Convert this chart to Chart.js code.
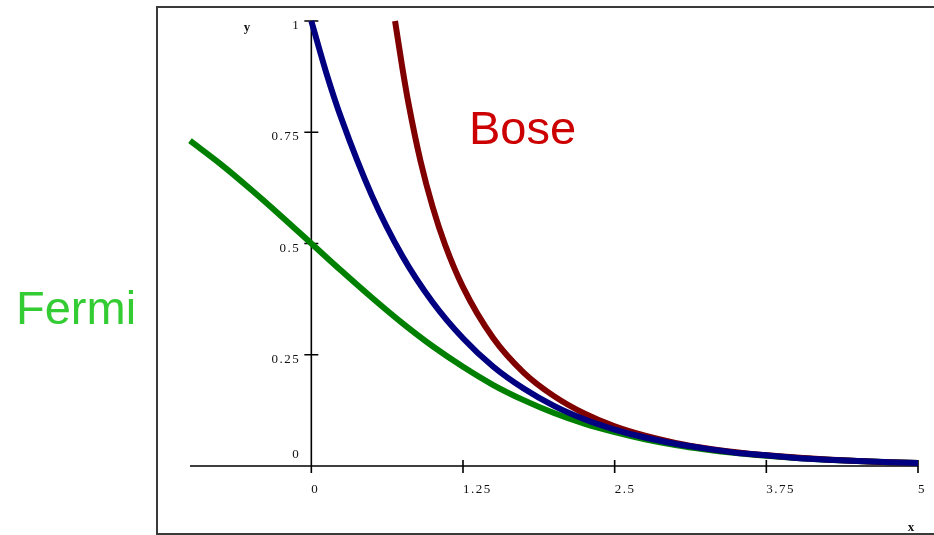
<!DOCTYPE html>
<html>
<head>
<meta charset="utf-8">
<script src="https://cdn.jsdelivr.net/npm/chart.js@4/dist/chart.umd.min.js"></script>
<style>
  html, body { margin: 0; padding: 0; background: #fff; }
  #wrap { position: relative; width: 934px; height: 535px; overflow: hidden; }
  #wrap canvas { position: absolute; left: 0; top: 0; }
  .tag { position: absolute; font-family: "Liberation Sans", Arial, sans-serif; font-size: 47px; line-height: 1; white-space: nowrap; }
  #bose { left: 469px; top: 104px; color: #cc0000; }
  #fermi { left: 16px; top: 284px; color: #33cc33; }
</style>
</head>
<body>
<div id="wrap">
  <canvas id="c" width="934" height="535"></canvas>
  <div class="tag" id="bose">Bose</div>
  <div class="tag" id="fermi">Fermi</div>
</div>
<script>
// Occupation number vs. energy: Fermi-Dirac, Maxwell-Boltzmann, Bose-Einstein
const fermiX = [-1, -0.75, -0.5, -0.25, 0, 0.25, 0.5, 0.75, 1, 1.25, 1.5, 1.75, 2, 2.25, 2.5, 2.75, 3, 3.25, 3.5, 3.75, 4, 4.25, 4.5, 4.75, 5];
const fermiY = [0.731, 0.679, 0.622, 0.562, 0.5, 0.438, 0.378, 0.321, 0.269, 0.223, 0.182, 0.148, 0.119, 0.095, 0.076, 0.060, 0.047, 0.037, 0.029, 0.023, 0.018, 0.014, 0.011, 0.0086, 0.0067];

const boltzX = [0, 0.125, 0.25, 0.5, 0.75, 1, 1.25, 1.5, 1.75, 2, 2.25, 2.5, 2.75, 3, 3.25, 3.5, 3.75, 4, 4.25, 4.5, 4.75, 5];
const boltzY = [1, 0.882, 0.779, 0.607, 0.472, 0.368, 0.287, 0.223, 0.174, 0.135, 0.105, 0.082, 0.064, 0.050, 0.039, 0.030, 0.024, 0.018, 0.014, 0.011, 0.0087, 0.0067];

const boseX = [0.69, 0.75, 0.8, 0.9, 1, 1.1, 1.25, 1.5, 1.75, 2, 2.25, 2.5, 2.75, 3, 3.25, 3.5, 3.75, 4, 4.25, 4.5, 4.75, 5];
const boseY = [1, 0.895, 0.816, 0.685, 0.582, 0.499, 0.402, 0.287, 0.210, 0.157, 0.118, 0.089, 0.068, 0.052, 0.040, 0.031, 0.024, 0.019, 0.0145, 0.0112, 0.0087, 0.0068];

const xTicks = [0, 1.25, 2.5, 3.75, 5];
const yTicks = [0, 0.25, 0.5, 0.75, 1];
const xTickLabels = ['0', '1.25', '2.5', '3.75', '5'];
const yTickLabels = ['0', '0.25', '0.5', '0.75', '1'];

const toPoints = (xs, ys) => xs.map((x, i) => ({ x: x, y: ys[i] }));

// Outer frame (left, top and bottom edges; the right edge runs past the page)
const framePlugin = {
  id: 'frame',
  beforeDraw(chart) {
    const ctx = chart.ctx;
    ctx.save();
    ctx.strokeStyle = '#3a3a3a';
    ctx.lineWidth = 2;
    ctx.beginPath();
    ctx.moveTo(940, 7);
    ctx.lineTo(157, 7);
    ctx.lineTo(157, 534);
    ctx.lineTo(940, 534);
    ctx.stroke();
    ctx.restore();
  }
};

// Axes crossing at the origin, with ticks through the axis lines
const crossAxesPlugin = {
  id: 'crossAxes',
  beforeDatasetsDraw(chart) {
    const { ctx, scales } = chart;
    const sx = scales.x, sy = scales.y;
    const x0 = sx.getPixelForValue(0);
    const y0 = sy.getPixelForValue(0);
    ctx.save();
    ctx.strokeStyle = '#000';
    ctx.lineWidth = 1.6;
    ctx.beginPath();
    ctx.moveTo(sx.getPixelForValue(sx.min), y0);
    ctx.lineTo(sx.getPixelForValue(sx.max), y0);
    ctx.moveTo(x0, sy.getPixelForValue(sy.max));
    ctx.lineTo(x0, y0 + 7);
    xTicks.forEach(v => {
      const px = sx.getPixelForValue(v);
      ctx.moveTo(px, y0 - 6);
      ctx.lineTo(px, y0 + 7);
    });
    yTicks.forEach(v => {
      const py = sy.getPixelForValue(v);
      ctx.moveTo(x0 - 7, py);
      ctx.lineTo(x0 + 7, py);
    });
    ctx.stroke();

    ctx.fillStyle = '#111';
    ctx.font = '13px "Liberation Serif", "Times New Roman", serif';
    if ('letterSpacing' in ctx) ctx.letterSpacing = '1.5px';
    ctx.textBaseline = 'alphabetic';
    ctx.textAlign = 'left';
    xTicks.forEach((v, i) => {
      ctx.fillText(xTickLabels[i], sx.getPixelForValue(v), y0 + 27);
    });
    ctx.textAlign = 'right';
    yTicks.forEach((v, i) => {
      const py = sy.getPixelForValue(v);
      const base = v === 0 ? py - 8 : py + 8;
      ctx.fillText(yTickLabels[i], x0 - 11, base);
    });
    if ('letterSpacing' in ctx) ctx.letterSpacing = '0px';
    ctx.font = 'bold 13px "Liberation Serif", "Times New Roman", serif';
    ctx.textAlign = 'center';
    ctx.fillText('y', 247, 31);
    ctx.fillText('x', 911, 531);
    ctx.restore();
  }
};

new Chart(document.getElementById('c'), {
  type: 'scatter',
  data: {
    datasets: [
      { label: 'Boltzmann', data: toPoints(boltzX, boltzY), borderColor: '#000080', backgroundColor: '#000080' },
      { label: 'Bose', data: toPoints(boseX, boseY), borderColor: '#800000', backgroundColor: '#800000' },
      { label: 'Fermi', data: toPoints(fermiX, fermiY), borderColor: '#008000', backgroundColor: '#008000' }
    ].map(d => Object.assign(d, {
      showLine: true,
      borderWidth: 6,
      pointRadius: 0,
      pointHoverRadius: 0,
      cubicInterpolationMode: 'monotone',
      clip: 6
    }))
  },
  options: {
    responsive: false,
    animation: false,
    events: [],
    layout: { padding: { left: 190, right: 16, top: 21, bottom: 69 } },
    plugins: { legend: { display: false }, tooltip: { enabled: false } },
    scales: {
      x: { type: 'linear', min: -1, max: 5, display: false },
      y: { type: 'linear', min: 0, max: 1, display: false }
    }
  },
  plugins: [framePlugin, crossAxesPlugin]
});
</script>
</body>
</html>
